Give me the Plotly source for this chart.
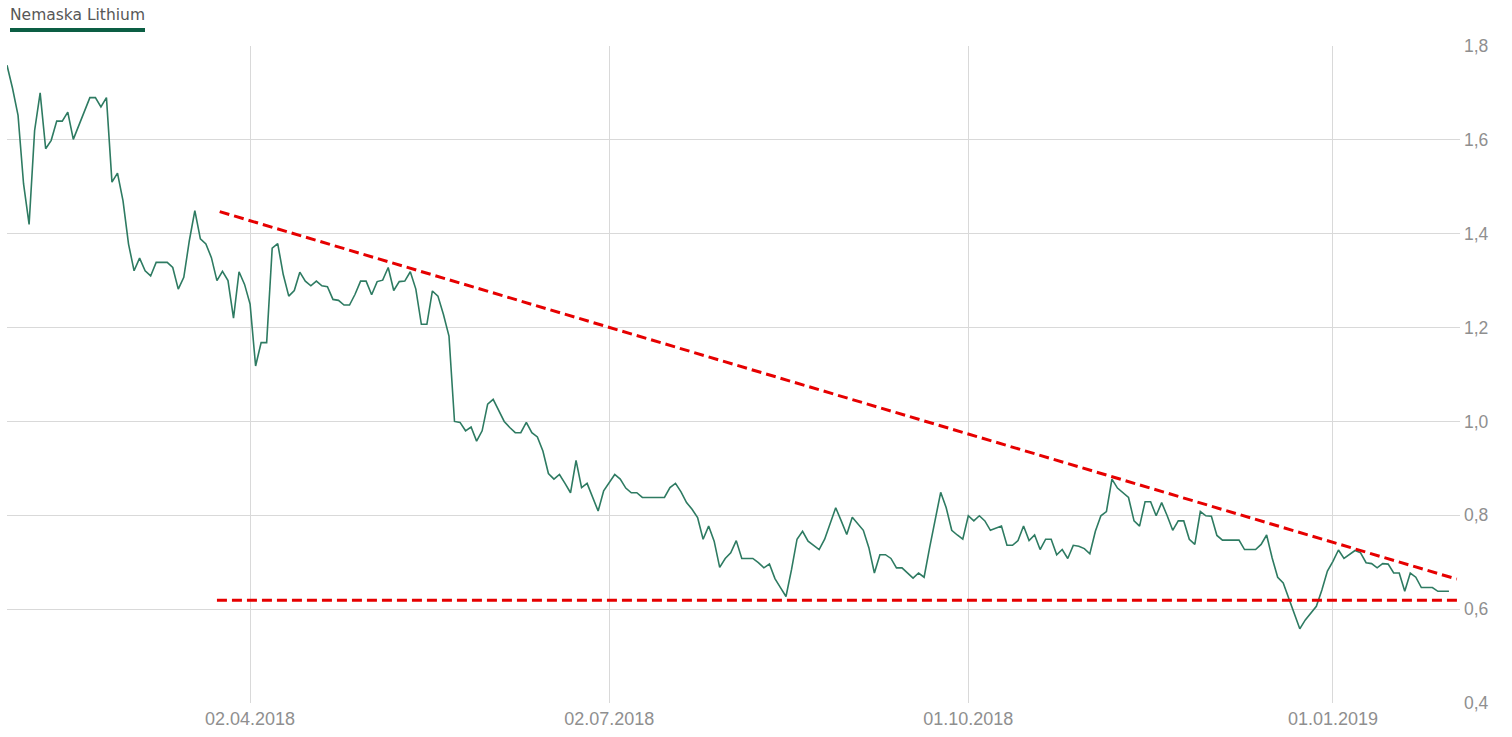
import pandas as pd
import plotly.graph_objects as go

# ---------------- data ----------------
series_name = "Nemaska Lithium"
start_date = "2018-01-30"

prices = [
    # late Jan - early Apr 2018
    1.759, 1.71, 1.652, 1.506, 1.420, 1.620, 1.700, 1.581, 1.599, 1.640,
    1.640, 1.659, 1.601, 1.63, 1.66, 1.690, 1.690, 1.670, 1.690, 1.510,
    1.529, 1.470, 1.378, 1.321, 1.348, 1.321, 1.310, 1.339, 1.339, 1.339,
    1.328, 1.282, 1.307, 1.385, 1.449, 1.389, 1.378, 1.349, 1.300, 1.320,
    1.300, 1.220, 1.319, 1.292, 1.250,
    # Apr - May 2018
    1.118, 1.168, 1.168, 1.369, 1.379, 1.313, 1.267, 1.279, 1.318, 1.299,
    1.289, 1.299, 1.289, 1.287, 1.260, 1.258, 1.248, 1.248, 1.271, 1.299,
    1.299, 1.270, 1.298, 1.301, 1.328, 1.279, 1.298, 1.299, 1.319, 1.282,
    1.207, 1.207, 1.278, 1.267, 1.228, 1.182, 1.000,
    # May - Jul 2018
    0.998, 0.980, 0.988, 0.958, 0.980, 1.037, 1.047, 1.022, 1.000, 0.987,
    0.976, 0.976, 0.998, 0.976, 0.967, 0.937, 0.889, 0.877, 0.887, 0.868,
    0.848, 0.917, 0.859, 0.868, 0.839, 0.809, 0.852, 0.870, 0.887, 0.877,
    0.858, 0.848, 0.848, 0.838, 0.838, 0.838, 0.838, 0.838, 0.859, 0.868,
    0.850, 0.827, 0.813, 0.795,
    # Aug - Sep 2018
    0.749, 0.777, 0.745, 0.689, 0.708, 0.720, 0.746, 0.708, 0.708, 0.708,
    0.699, 0.688, 0.696, 0.665, 0.646, 0.627, 0.684, 0.749, 0.766, 0.745,
    0.736, 0.727, 0.749, 0.784, 0.816, 0.788, 0.759, 0.796, 0.782, 0.768,
    0.731, 0.677, 0.716, 0.716, 0.708, 0.688, 0.688, 0.677, 0.666, 0.677,
    0.668, 0.731, 0.788, 0.849, 0.816, 0.768, 0.758, 0.749, 0.799, 0.788,
    0.799,
    # Oct - Nov 2018
    0.788, 0.768, 0.772, 0.777, 0.736, 0.736, 0.746, 0.777, 0.746, 0.758,
    0.727, 0.749, 0.749, 0.716, 0.727, 0.708, 0.736, 0.734, 0.729, 0.718,
    0.766, 0.799, 0.808, 0.877, 0.858, 0.849, 0.838, 0.788, 0.777, 0.829,
    0.829, 0.799, 0.827, 0.799, 0.768, 0.788, 0.788, 0.749, 0.738, 0.808,
    0.799, 0.798, 0.757,
    # Dec 2018 - Jan 2019
    0.747, 0.747, 0.747, 0.747, 0.727, 0.727, 0.727, 0.738, 0.758, 0.709,
    0.668, 0.656, 0.624, 0.591, 0.558, 0.577, 0.591, 0.606, 0.641, 0.681,
    0.702, 0.726, 0.708, 0.716, 0.725, 0.720, 0.699, 0.697, 0.688, 0.697,
    0.696, 0.677, 0.677, 0.638, 0.677, 0.668, 0.646, 0.646, 0.646, 0.638,
    0.638, 0.638,
]

x_tick_dates = ["2018-04-02", "2018-07-02", "2018-10-01", "2019-01-01"]
y_tick_values = [0.4, 0.6, 0.8, 1.0, 1.2, 1.4, 1.6, 1.8]
axis_end_date = "2019-02-01"

# hand-drawn trend lines (start, end)
resistance_dates = ["2018-03-23 12:00", "2019-01-31 10:00"]
resistance_values = [1.447, 0.664]
support_dates = ["2018-03-23 00:00", "2019-02-01 00:00"]
support_values = [0.619, 0.619]

# ---------------- figure ----------------
dates = pd.bdate_range(start_date, periods=len(prices))

LINE_GREEN = "#2e7b62"
BAR_GREEN = "#0c5e44"
RED = "#e60000"
GRID = "#d9d9d9"
TICK_GREY = "#8f8f8f"

fig = go.Figure()
fig.add_trace(go.Scatter(
    x=dates, y=prices, mode="lines", name=series_name,
    line=dict(color=LINE_GREEN, width=1.6),
    hovertemplate="%{x|%d.%m.%Y}: %{y:.3f}<extra></extra>",
))

for d, v in ((resistance_dates, resistance_values), (support_dates, support_values)):
    fig.add_shape(
        type="line", xref="x", yref="y",
        x0=d[0], x1=d[1], y0=v[0], y1=v[1],
        line=dict(color=RED, width=3, dash="10px,5px"),
        layer="above",
    )

# legend-like title with underline bar
fig.add_annotation(
    text=series_name, xref="paper", yref="paper", x=0, y=1,
    xanchor="left", yanchor="middle", xshift=1, yshift=31,
    showarrow=False, font=dict(family="DejaVu Sans", size=15.5, color="#575757"),
)
fig.add_shape(
    type="rect", xref="paper", yref="paper",
    xsizemode="pixel", ysizemode="pixel", xanchor=0, yanchor=1,
    x0=3, x1=138, y0=14, y1=18,
    fillcolor=BAR_GREEN, line=dict(width=0),
)

x_tick_font = dict(family="Arial, Liberation Sans, sans-serif", size=18, color=TICK_GREY)
y_tick_font = dict(family="Arial, Liberation Sans, sans-serif", size=17.5, color=TICK_GREY)

fig.update_layout(
    width=1512, height=737,
    margin=dict(l=7, r=52, t=46, b=34),
    paper_bgcolor="white", plot_bgcolor="white",
    showlegend=False,
    separators=",.",
    xaxis=dict(
        type="date",
        range=[dates[0], axis_end_date],
        rangebreaks=[dict(bounds=["sat", "mon"])],
        tickvals=x_tick_dates, tickformat="%d.%m.%Y",
        showgrid=True, gridcolor=GRID, gridwidth=1,
        zeroline=False, showline=False, ticks="",
        tickfont=x_tick_font, ticklabelstandoff=3,
    ),
    yaxis=dict(
        side="right",
        range=[0.4, 1.8],
        tickvals=y_tick_values, tickformat=".1f",
        showgrid=True, gridcolor=GRID, gridwidth=1,
        zeroline=False, showline=False, ticks="",
        tickfont=y_tick_font, ticklabelstandoff=3,
    ),
)

fig.write_html(
    "out.html",
    config={"displayModeBar": False},
    post_script="document.body.style.margin='0';",
)
